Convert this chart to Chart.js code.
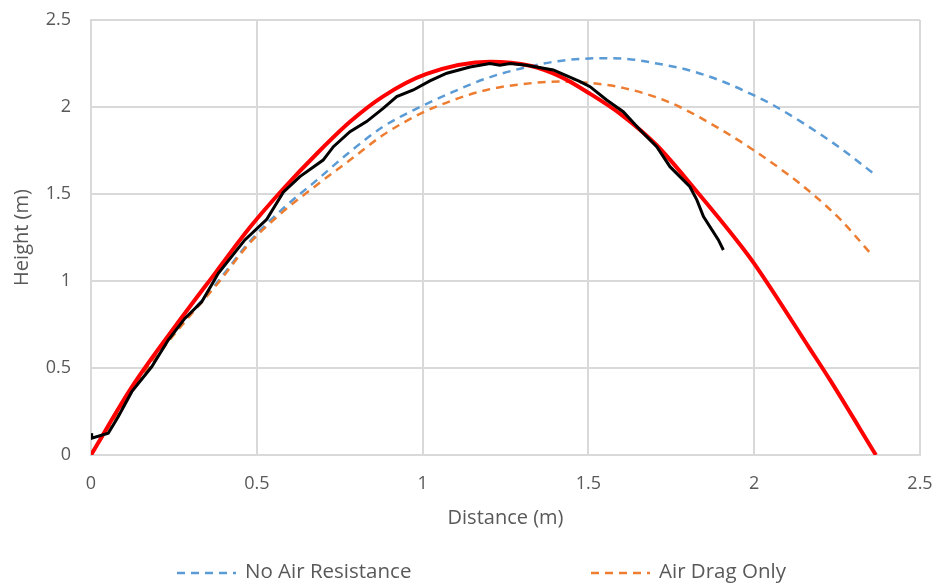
<!DOCTYPE html>
<html><head><meta charset="utf-8">
<script src="https://cdn.jsdelivr.net/npm/chart.js@4.4.1/dist/chart.umd.min.js"></script>
<style>html,body{margin:0;padding:0;background:#fff;}</style>
</head><body>
<canvas id="c" width="938" height="586"></canvas>
<script>
// ---- data ----
const axisTicks = [0, 0.5, 1, 1.5, 2, 2.5];
const xTitle = "Distance (m)";
const yTitle = "Height (m)";
const legendNames = ["No Air Resistance", "Air Drag Only"];

const noAirX = [0, 0.12, 0.233, 0.384, 0.48, 0.58, 0.681, 0.781, 0.881, 0.992, 1.093, 1.193, 1.294, 1.414, 1.535, 1.605, 1.706, 1.806, 1.907, 2.007, 2.058, 2.158, 2.259, 2.359];
const noAirY = [0, 0.36, 0.66, 1.0, 1.23, 1.418, 1.58, 1.743, 1.887, 2.0, 2.088, 2.165, 2.22, 2.265, 2.28, 2.278, 2.25, 2.21, 2.145, 2.06, 2.01, 1.895, 1.765, 1.619];

const dragX = [0, 0.12, 0.233, 0.384, 0.48, 0.58, 0.681, 0.781, 0.881, 0.992, 1.093, 1.193, 1.294, 1.414, 1.505, 1.605, 1.706, 1.776, 1.9, 2.0, 2.1, 2.173, 2.259, 2.354];
const dragY = [0, 0.355, 0.65, 0.99, 1.22, 1.40, 1.552, 1.695, 1.839, 1.96, 2.04, 2.098, 2.13, 2.146, 2.138, 2.11, 2.055, 2.0, 1.87, 1.75, 1.615, 1.505, 1.355, 1.152];

const modelX = [0, 0.123, 0.253, 0.374, 0.48, 0.58, 0.68, 0.781, 0.88, 1.012, 1.203, 1.324, 1.414, 1.5, 1.6, 1.706, 1.82, 1.957, 2.0, 2.168, 2.229, 2.367];
const modelY = [0, 0.39, 0.737, 1.044, 1.31, 1.53, 1.73, 1.915, 2.06, 2.19, 2.26, 2.237, 2.176, 2.082, 1.955, 1.78, 1.53, 1.21, 1.10, 0.61, 0.43, 0];

const measX = [0, 0.002, 0.052, 0.082, 0.123, 0.183, 0.233, 0.283, 0.334, 0.384, 0.424, 0.464, 0.53, 0.58, 0.63, 0.70, 0.731, 0.781, 0.831, 0.881, 0.922, 0.972, 1.022, 1.073, 1.143, 1.203, 1.233, 1.264, 1.314, 1.394, 1.475, 1.505, 1.555, 1.605, 1.656, 1.706, 1.746, 1.806, 1.827, 1.847, 1.892, 1.907];
const measY = [0.125, 0.096, 0.125, 0.22, 0.364, 0.507, 0.661, 0.785, 0.881, 1.044, 1.14, 1.236, 1.355, 1.51, 1.6, 1.695, 1.772, 1.858, 1.916, 1.992, 2.06, 2.098, 2.15, 2.194, 2.23, 2.25, 2.24, 2.25, 2.24, 2.213, 2.146, 2.117, 2.04, 1.973, 1.868, 1.772, 1.657, 1.542, 1.466, 1.37, 1.236, 1.178];

const pts = (xs, ys) => xs.map((x, i) => ({x: x, y: ys[i]}));
const FONT = '"Open Sans", "Liberation Sans", sans-serif';
const TXT = '#595959';

const legendPlugin = {
  id: 'bottomLegend',
  afterDraw(chart) {
    const ctx = chart.ctx;
    const rowY = 572;
    const starts = [177, 591];
    ctx.save();
    [0, 1].forEach((di, k) => {
      const ds = chart.data.datasets[di];
      const x0 = starts[k];
      ctx.strokeStyle = ds.borderColor;
      ctx.lineWidth = ds.borderWidth;
      ctx.setLineDash(ds.borderDash || []);
      ctx.beginPath();
      ctx.moveTo(x0, rowY + 1);
      ctx.lineTo(x0 + 59, rowY + 1);
      ctx.stroke();
      ctx.setLineDash([]);
      ctx.fillStyle = TXT;
      ctx.font = '20.5px ' + FONT;
      ctx.textBaseline = 'middle';
      ctx.textAlign = 'left';
      ctx.fillText(legendNames[di], x0 + 68, rowY);
    });
    ctx.restore();
  }
};

const tickFmt = v => String(v);

new Chart(document.getElementById('c'), {
  type: 'line',
  data: {
    datasets: [
      {label: legendNames[0], data: pts(noAirX, noAirY), borderColor: '#5B9BD5', borderWidth: 2.5, borderDash: [8, 6], pointRadius: 0, cubicInterpolationMode: 'monotone', order: 3},
      {label: legendNames[1], data: pts(dragX, dragY), borderColor: '#ED7D31', borderWidth: 2.5, borderDash: [8, 6], pointRadius: 0, cubicInterpolationMode: 'monotone', order: 2},
      {label: '', data: pts(modelX, modelY), borderColor: '#FF0000', borderWidth: 4, pointRadius: 0, cubicInterpolationMode: 'monotone', order: 1},
      {label: '', data: pts(measX, measY), borderColor: '#000000', borderWidth: 3, pointRadius: 0, tension: 0, order: 0}
    ]
  },
  options: {
    responsive: false,
    animation: false,
    devicePixelRatio: 1,
    layout: {padding: {left: 0, right: 18, top: 20, bottom: 51}},
    plugins: {legend: {display: false}, tooltip: {enabled: false}},
    scales: {
      x: {
        type: 'linear', min: 0, max: 2.5,
        afterBuildTicks: s => { s.ticks = axisTicks.map(v => ({value: v})); },
        afterFit: s => { s.height = 80; s.paddingLeft = 0; s.paddingRight = 0; },
        grid: {color: '#d9d9d9', lineWidth: 2, drawTicks: false},
        border: {color: '#d9d9d9', width: 2},
        ticks: {padding: 18, color: TXT, font: {family: FONT, size: 18}, callback: tickFmt},
        title: {display: true, text: xTitle, color: TXT, font: {family: FONT, size: 20}, padding: {top: 0, bottom: 5}}
      },
      y: {
        type: 'linear', min: 0, max: 2.5,
        afterBuildTicks: s => { s.ticks = axisTicks.map(v => ({value: v})); },
        afterFit: s => { s.width = 91; s.paddingTop = 0; s.paddingBottom = 0; },
        grid: {color: '#d9d9d9', lineWidth: 2, drawTicks: false},
        border: {color: '#d9d9d9', width: 2},
        ticks: {padding: 20, color: TXT, font: {family: FONT, size: 18}, callback: tickFmt},
        title: {display: true, text: yTitle, color: TXT, font: {family: FONT, size: 20}, padding: {top: 10, bottom: 0}}
      }
    }
  },
  plugins: [legendPlugin]
});
</script>
</body></html>
